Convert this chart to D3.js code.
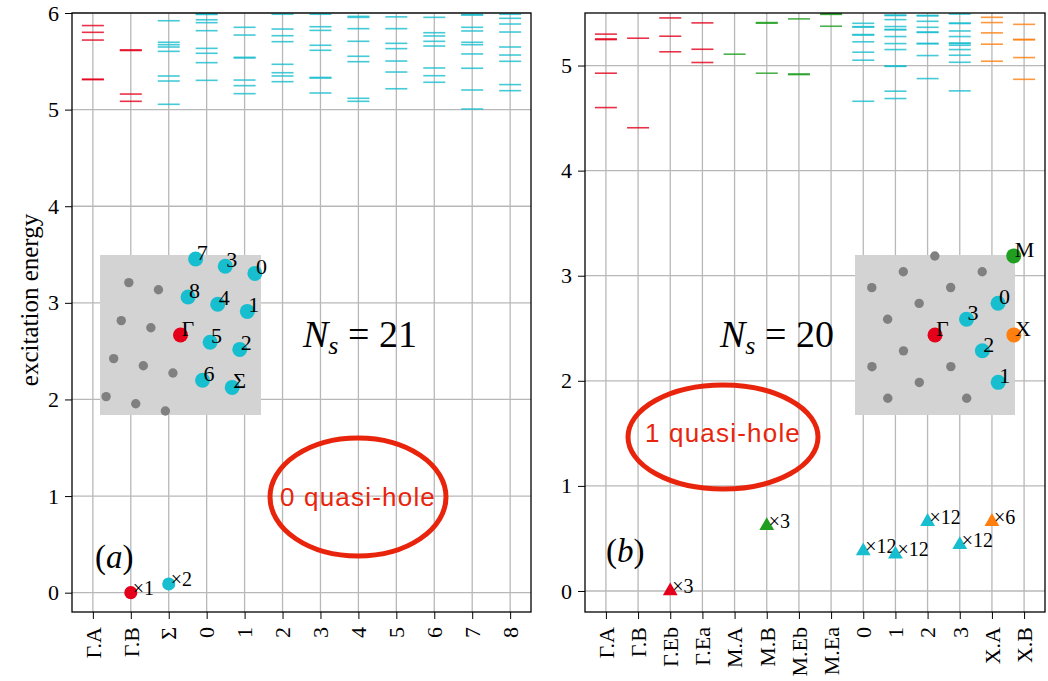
<!DOCTYPE html>
<html>
<head>
<meta charset="utf-8">
<script src="https://cdn.jsdelivr.net/npm/d3@7"></script>
<style>
  body { margin: 0; background: #fff; }
  svg text { font-family: "Liberation Serif", "DejaVu Serif", serif; }
  svg text.sans { font-family: "Liberation Sans", Arial, sans-serif; }
</style>
</head>
<body>
<div id="chart"></div>
<script>
// Colours of the momentum sectors
const RED = '#e4001b';
const CYAN = '#17becf';
const GREEN = '#1f9e1f';
const ORANGE = '#ff7f0e';
const GRAY = '#808080';
const HOLE = '#e8250c';

// ---- panel (a): N_s = 21, 0 quasi-hole ----
const catsA = ['Γ.A', 'Γ.B', 'Σ', '0', '1', '2', '3', '4', '5', '6', '7', '8'];
const colorsA = [RED, RED, CYAN, CYAN, CYAN, CYAN, CYAN, CYAN, CYAN, CYAN, CYAN, CYAN];
const levelsA = [
  [5.31, 5.315, 5.72, 5.80, 5.87],
  [5.086, 5.161, 5.612, 5.618],
  [5.055, 5.296, 5.348, 5.603, 5.648, 5.672, 5.697, 5.92],
  [5.303, 5.486, 5.583, 5.634, 5.817, 5.90, 5.93, 5.985, 5.99],
  [5.165, 5.248, 5.306, 5.535, 5.541, 5.772, 5.852],
  [5.289, 5.348, 5.382, 5.469, 5.703, 5.765, 5.834, 5.987],
  [5.172, 5.327, 5.333, 5.614, 5.666, 5.82, 5.858, 5.987],
  [5.086, 5.117, 5.496, 5.552, 5.707, 5.838, 5.955, 5.965],
  [5.216, 5.389, 5.503, 5.631, 5.686, 5.838, 5.96],
  [5.283, 5.351, 5.431, 5.658, 5.707, 5.762, 5.796, 5.955],
  [5.006, 5.203, 5.428, 5.576, 5.672, 5.697, 5.814, 5.852, 5.979, 5.984],
  [5.196, 5.259, 5.5, 5.565, 5.648, 5.803, 5.886, 5.945, 5.987]
];
const groundCatsA = ['Γ.B', 'Σ'];
const groundEA = [0, 0.09];
const groundDegA = ['×1', '×2'];
const groundColorsA = [RED, CYAN];
const yTicksA = [0, 1, 2, 3, 4, 5, 6];

// ---- panel (b): N_s = 20, 1 quasi-hole ----
const catsB = ['Γ.A', 'Γ.B', 'Γ.Eb', 'Γ.Ea', 'M.A', 'M.B', 'M.Eb', 'M.Ea', '0', '1', '2', '3', 'X.A', 'X.B'];
const colorsB = [RED, RED, RED, RED, GREEN, GREEN, GREEN, GREEN, CYAN, CYAN, CYAN, CYAN, ORANGE, ORANGE];
const levelsB = [
  [4.6, 4.927, 5.247, 5.253, 5.299],
  [4.408, 5.26],
  [5.131, 5.279, 5.453],
  [5.029, 5.155, 5.406],
  [5.108],
  [4.927, 5.403, 5.409],
  [4.914, 4.92, 5.444],
  [5.374, 5.487, 5.492],
  [4.66, 5.051, 5.127, 5.226, 5.29, 5.295, 5.366, 5.37, 5.402],
  [4.686, 4.756, 4.992, 4.996, 5.152, 5.209, 5.276, 5.34, 5.344, 5.371, 5.437, 5.476, 5.48],
  [4.876, 5.095, 5.207, 5.211, 5.315, 5.319, 5.364, 5.421, 5.473, 5.477],
  [4.759, 5.031, 5.098, 5.152, 5.193, 5.21, 5.214, 5.276, 5.329, 5.4, 5.404, 5.49],
  [5.041, 5.203, 5.311, 5.409, 5.459],
  [4.869, 5.076, 5.245, 5.249, 5.392]
];
const groundCatsB = ['Γ.Eb', 'M.B', '0', '1', '2', '3', 'X.A'];
const groundEB = [0, 0.62, 0.38, 0.35, 0.66, 0.44, 0.66];
const groundDegB = ['×3', '×3', '×12', '×12', '×12', '×12', '×6'];
const groundColorsB = [RED, GREEN, CYAN, CYAN, CYAN, CYAN, ORANGE];
const yTicksB = [0, 1, 2, 3, 4, 5];

// ---- Brillouin-zone insets: lattice indices (i, j) of the momenta ----
const insetLabelsA = ['Γ', '5', '2', '8', '4', '1', '7', '3', '0', '6', 'Σ'];
const insetIdxA = [[0, 0], [1, 0], [2, 0], [0, 1], [1, 1], [2, 1], [0, 2], [1, 2], [2, 2], [1, -1], [2, -1]];
const insetColorsA = [RED, CYAN, CYAN, CYAN, CYAN, CYAN, CYAN, CYAN, CYAN, CYAN, CYAN];
const insetGrayA = [[-2, 1], [-1, 1], [-2, 0], [-1, 0], [-2, -1], [-1, -1], [0, -1], [-2, -2], [-1, -2], [0, -2]];
const insetBasisA = [[0.184, -0.045], [0.047, 0.2375]];

const insetLabelsB = ['Γ', '3', '0', '2', '1', 'M', 'X'];
const insetIdxB = [[0, 0], [1, 0], [2, 0], [1, 1], [1, 2], [3, -1], [2, 1]];
const insetColorsB = [RED, CYAN, CYAN, CYAN, CYAN, GREEN, ORANGE];
const insetGrayB = [[1, -2], [0, -2], [2, -1], [-1, -2], [1, -1], [0, -1], [-1, -1], [-1, 0], [-2, 0], [0, 1], [-1, 1], [-2, 1], [0, 2]];
const insetBasisB = [[0.197, 0.099], [0.099, -0.1975]];

const svg = d3.select('#chart').append('svg')
  .attr('width', 1048)
  .attr('height', 681);

/*
  Draw one spectrum panel: grid, level segments, ground-state markers, axes.
*/
function spectrum(p) {
  const x = d3.scalePoint().domain(p.cats).range([p.left, p.right]).padding(p.pad);
  const y = d3.scaleLinear().domain(p.yDomain).range([p.bottom, p.top]);
  const g = svg.append('g');

  // grid lines
  g.append('g').selectAll('line').data(p.cats).join('line')
    .attr('x1', d => x(d)).attr('x2', d => x(d))
    .attr('y1', p.top).attr('y2', p.bottom)
    .attr('stroke', '#b8b8b8').attr('stroke-width', 1.3);
  g.append('g').selectAll('line').data(p.yTicks).join('line')
    .attr('x1', p.left).attr('x2', p.right)
    .attr('y1', d => y(d)).attr('y2', d => y(d))
    .attr('stroke', '#b8b8b8').attr('stroke-width', 1.3);

  // energy levels, a short dash per eigenvalue
  p.cats.forEach((c, i) => {
    g.append('g').selectAll('line').data(p.levels[i]).join('line')
      .attr('x1', x(c) - 11).attr('x2', x(c) + 11)
      .attr('y1', d => y(d)).attr('y2', d => y(d))
      .attr('stroke', p.colors[i]).attr('stroke-width', 1.6)
      .attr('opacity', 0.8);
  });

  // ground states with degeneracy labels
  const sym = d3.symbol().type(p.marker).size(p.markerSize);
  const gs = g.append('g').selectAll('g').data(p.groundCats).join('g')
    .attr('transform', (d, i) => `translate(${x(d)},${y(p.groundE[i])})`);
  gs.append('path').attr('d', sym).attr('fill', (d, i) => p.groundColors[i]);
  gs.append('text')
    .attr('x', 2).attr('y', 2)
    .style('font-size', '20px')
    .text((d, i) => p.groundDeg[i]);

  // axes
  const gx = g.append('g')
    .attr('transform', `translate(0,${p.bottom})`)
    .call(d3.axisBottom(x).tickSize(7));
  gx.select('.domain').remove();
  gx.selectAll('text')
    .attr('transform', 'rotate(-90)')
    .attr('text-anchor', 'end')
    .attr('x', -15).attr('y', 0).attr('dy', '0.33em')
    .style('font-size', '22px');

  const gy = g.append('g')
    .attr('transform', `translate(${p.left},0)`)
    .call(d3.axisLeft(y).tickValues(p.yTicks).tickFormat(d3.format('d')).tickSize(7).tickPadding(6));
  gy.select('.domain').remove();
  gy.selectAll('text')
    .style('font-size', '22px');

  g.append('rect')
    .attr('x', p.left).attr('y', p.top)
    .attr('width', p.right - p.left).attr('height', p.bottom - p.top)
    .attr('fill', 'none').attr('stroke', '#000').attr('stroke-width', 1.3);

  return g;
}

/*
  Momentum-space inset: gray square, lattice points, labelled sectors.
*/
function inset(p) {
  const xi = d3.scaleLinear().domain([0, 1]).range([p.x0, p.x1]);
  const yi = d3.scaleLinear().domain([0, 1]).range([p.y1, p.y0]);
  const kx = d => 0.5 + d[0] * p.basis[0][0] + d[1] * p.basis[1][0];
  const ky = d => 0.5 + d[0] * p.basis[0][1] + d[1] * p.basis[1][1];
  const g = svg.append('g');

  g.append('rect')
    .attr('x', p.x0).attr('y', p.y0)
    .attr('width', p.x1 - p.x0).attr('height', p.y1 - p.y0)
    .attr('fill', '#d3d3d3');

  g.append('g').selectAll('circle').data(p.gray).join('circle')
    .attr('cx', d => xi(kx(d))).attr('cy', d => yi(ky(d)))
    .attr('r', 4.7).attr('fill', GRAY);

  const pts = g.append('g').selectAll('g').data(p.idx).join('g')
    .attr('transform', d => `translate(${xi(kx(d))},${yi(ky(d))})`);
  pts.append('circle').attr('r', 7.5).attr('fill', (d, i) => p.colors[i]);
  pts.append('text')
    .attr('x', 1).attr('y', 1)
    .style('font-size', '22px')
    .text((d, i) => p.labels[i]);
}

spectrum({
  cats: catsA, levels: levelsA, colors: colorsA,
  groundCats: groundCatsA, groundE: groundEA, groundDeg: groundDegA, groundColors: groundColorsA,
  marker: d3.symbolCircle, markerSize: 135,
  yTicks: yTicksA, yDomain: [-0.2, 6],
  left: 72, right: 531, top: 13, bottom: 612, pad: 0.55
});

spectrum({
  cats: catsB, levels: levelsB, colors: colorsB,
  groundCats: groundCatsB, groundE: groundEB, groundDeg: groundDegB, groundColors: groundColorsB,
  marker: d3.symbolTriangle, markerSize: 95,
  yTicks: yTicksB, yDomain: [-0.2, 5.5],
  left: 585, right: 1045, top: 13, bottom: 612, pad: 0.65
});

inset({ x0: 100, x1: 261, y0: 255, y1: 415, basis: insetBasisA,
  idx: insetIdxA, labels: insetLabelsA, colors: insetColorsA, gray: insetGrayA });
inset({ x0: 855, x1: 1015, y0: 255, y1: 415, basis: insetBasisB,
  idx: insetIdxB, labels: insetLabelsB, colors: insetColorsB, gray: insetGrayB });

// y label
svg.append('text')
  .attr('transform', 'translate(38,300) rotate(-90)')
  .attr('text-anchor', 'middle')
  .style('font-size', '25px')
  .text('excitation energy');

// panel tags and system sizes
function tag(x, y, letter) {
  const t = svg.append('text').attr('x', x).attr('y', y).style('font-size', '33px');
  t.append('tspan').text('(');
  t.append('tspan').attr('font-style', 'italic').text(letter);
  t.append('tspan').text(')');
}
tag(95, 568, 'a');
tag(606, 562, 'b');

function sites(x, y, n) {
  const t = svg.append('text').attr('x', x).attr('y', y).style('font-size', '38px');
  t.append('tspan').attr('font-style', 'italic').text('N');
  t.append('tspan').attr('font-style', 'italic').style('font-size', '26px').attr('dy', 7).text('s');
  t.append('tspan').attr('dy', -7).text(' = ' + n);
}
sites(303, 347, 21);
sites(720, 347, 20);

// quasi-hole annotations
function hole(cx, cy, rx, ry, label, ty) {
  svg.append('ellipse')
    .attr('cx', cx).attr('cy', cy).attr('rx', rx).attr('ry', ry)
    .attr('fill', 'none').attr('stroke', HOLE).attr('stroke-width', 5);
  svg.append('text')
    .attr('class', 'sans')
    .attr('x', cx).attr('y', ty)
    .attr('text-anchor', 'middle')
    .style('font-size', '26px')
    .style('letter-spacing', '1.2px')
    .attr('fill', HOLE)
    .text(label);
}
hole(358, 497, 88, 59, '0 quasi-hole', 506);
hole(723, 437, 95, 52, '1 quasi-hole', 442);
</script>
</body>
</html>
